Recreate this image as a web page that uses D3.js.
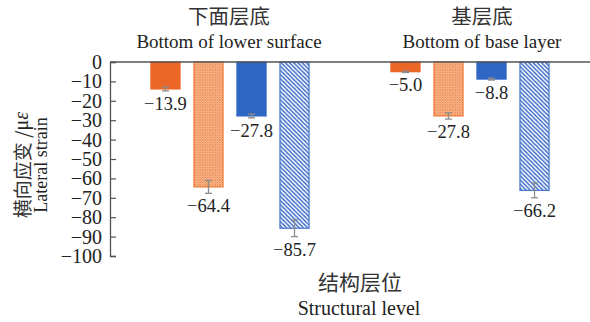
<!DOCTYPE html>
<html>
<head>
<meta charset="utf-8">
<script src="https://cdn.jsdelivr.net/npm/d3@7"></script>
<style>
  html, body { margin: 0; padding: 0; background: #fff; }
  svg { display: block; }
  .serif { font-family: "Liberation Serif", "DejaVu Serif", serif; fill: #222; }
  .cjk { font-family: "Noto Sans CJK SC", sans-serif; fill: #333; }
</style>
</head>
<body>
<svg id="chart" width="590" height="322"></svg>
<script>
// Structural levels (groups) with their bilingual headings
const categories = ["下面层底", "基层底"];
const categoriesEn = ["Bottom of lower surface", "Bottom of base layer"];

// Four loading cases per level
const seriesKeys = ["caseA", "caseB", "caseC", "caseD"];

// Lateral strain (με) per level, one array per level in series order
const valuesLowerSurface = [-13.9, -64.4, -27.8, -85.7];
const valuesBaseLayer = [-5.0, -27.8, -8.8, -66.2];

// Error bar half-widths (με)
const errorsLowerSurface = [1.0, 3.3, 1.0, 4.3];
const errorsBaseLayer = [0.4, 1.6, 0.5, 3.8];

// Y axis ticks
const yTicks = [0, -10, -20, -30, -40, -50, -60, -70, -80, -90, -100];

const values = [valuesLowerSurface, valuesBaseLayer];
const errors = [errorsLowerSurface, errorsBaseLayer];

const SERIF = '"Liberation Serif", "DejaVu Serif", serif';
const svg = d3.select("#chart");
const W = 590;
const plotLeft = 110, plotTop = 62, plotBottom = 256;

const x0 = d3.scaleBand().domain(categories).range([plotLeft, W]);
const x1 = d3.scaleBand().domain(seriesKeys).range([0, x0.bandwidth()])
  .paddingInner(0.3).paddingOuter(0.94);
const y = d3.scaleLinear().domain([-100, 0]).range([plotBottom, plotTop]);

// Fill styles
const defs = svg.append("defs");
const orangePat = defs.append("pattern")
  .attr("id", "orangeHatch").attr("patternUnits", "userSpaceOnUse")
  .attr("width", 2.5).attr("height", 2.5);
orangePat.append("rect").attr("width", 2.5).attr("height", 2.5).attr("fill", "#f8c6a6");
orangePat.append("path").attr("d", "M0,0L2.5,2.5M2.5,0L0,2.5")
  .attr("stroke", "#f0884c").attr("stroke-width", 0.8);

const bluePat = defs.append("pattern")
  .attr("id", "blueHatch").attr("patternUnits", "userSpaceOnUse")
  .attr("width", 4.2).attr("height", 4.2);
bluePat.append("rect").attr("width", 4.2).attr("height", 4.2).attr("fill", "#ffffff");
bluePat.append("path").attr("d", "M-1,-1L5.2,5.2M-1,3.2L1,5.2M3.2,-1L5.2,1")
  .attr("stroke", "#3a69c8").attr("stroke-width", 1.4);

const styles = {
  caseA: { fill: "#ec6627", stroke: "#ec6627" },
  caseB: { fill: "url(#orangeHatch)", stroke: "#ef7a3a" },
  caseC: { fill: "#2f66c3", stroke: "#2f66c3" },
  caseD: { fill: "url(#blueHatch)", stroke: "#4a76cc" }
};

const rows = [];
categories.forEach((c, gi) => {
  seriesKeys.forEach((k, si) => {
    rows.push({ cat: c, key: k, v: values[gi][si], e: errors[gi][si] });
  });
});

// Bars
const g = svg.append("g");
g.selectAll("rect.bar").data(rows).join("rect")
  .attr("class", "bar")
  .attr("x", d => x0(d.cat) + x1(d.key) + 0.5)
  .attr("y", y(0))
  .attr("width", x1.bandwidth() - 1)
  .attr("height", d => y(d.v) - y(0))
  .attr("fill", d => styles[d.key].fill)
  .attr("stroke", d => styles[d.key].stroke)
  .attr("stroke-width", 1.2);

// Error bars
const eb = g.selectAll("g.err").data(rows).join("g").attr("class", "err")
  .attr("stroke", "#8c8c8c").attr("stroke-width", 1.3);
const cx = d => x0(d.cat) + x1(d.key) + x1.bandwidth() / 2;
eb.append("line")
  .attr("x1", cx).attr("x2", cx)
  .attr("y1", d => y(d.v + d.e)).attr("y2", d => y(d.v - d.e));
eb.append("line")
  .attr("x1", d => cx(d) - 3.5).attr("x2", d => cx(d) + 3.5)
  .attr("y1", d => y(d.v + d.e)).attr("y2", d => y(d.v + d.e));
eb.append("line")
  .attr("x1", d => cx(d) - 3.5).attr("x2", d => cx(d) + 3.5)
  .attr("y1", d => y(d.v - d.e)).attr("y2", d => y(d.v - d.e));

// Value labels under each bar
const fmt = d3.format(".1f");
g.selectAll("text.val").data(rows).join("text")
  .attr("class", "val")
  .attr("font-family", SERIF)
  .attr("fill", "#222")
  .attr("x", cx)
  .attr("y", d => y(d.v - d.e) + 19)
  .attr("text-anchor", "middle")
  .attr("font-size", 18.5)
  .text(d => fmt(d.v));

// Top frame line at zero
svg.append("line")
  .attr("x1", plotLeft).attr("x2", W)
  .attr("y1", y(0)).attr("y2", y(0))
  .attr("stroke", "#555").attr("stroke-width", 1.3);

// Y axis with inward ticks
const yAxis = svg.append("g")
  .attr("transform", `translate(${plotLeft},0)`)
  .call(d3.axisLeft(y).tickValues(yTicks).tickSizeInner(-6).tickSizeOuter(-6)
    .tickPadding(8).tickFormat(d3.format("d")));
yAxis.attr("font-family", SERIF).attr("font-size", 20);
yAxis.select(".domain").attr("stroke", "#555").attr("stroke-width", 1.3);
yAxis.selectAll(".tick line").attr("stroke", "#555").attr("stroke-width", 1.2);
yAxis.selectAll(".tick text").attr("fill", "#222");

// Group headings
const titleX = [229, 482];
categories.forEach((c, i) => {
  svg.append("text").attr("class", "cjk")
    .attr("x", titleX[i]).attr("y", 24)
    .attr("text-anchor", "middle").attr("font-size", 20.5)
    .text(c);
  svg.append("text").attr("class", "serif")
    .attr("x", titleX[i]).attr("y", 48)
    .attr("text-anchor", "middle").attr("font-size", 19)
    .text(categoriesEn[i]);
});

// Y axis title
const yt = svg.append("text").attr("class", "cjk")
  .attr("transform", "translate(21,165) rotate(-90)")
  .attr("text-anchor", "middle").attr("dominant-baseline", "central")
  .attr("font-size", 19);
yt.append("tspan").text("横向应变 /");
yt.append("tspan").attr("class", "serif").attr("font-size", 20).text("μ");
yt.append("tspan").attr("class", "serif").attr("font-size", 20)
  .attr("font-style", "italic").text("ε");
svg.append("text").attr("class", "serif")
  .attr("transform", "translate(41,165) rotate(-90)")
  .attr("text-anchor", "middle").attr("dominant-baseline", "central")
  .attr("font-size", 18)
  .text("Lateral strain");

// X axis title
svg.append("text").attr("class", "cjk")
  .attr("x", 360).attr("y", 290)
  .attr("text-anchor", "middle").attr("font-size", 21)
  .text("结构层位");
svg.append("text").attr("class", "serif")
  .attr("x", 359).attr("y", 315)
  .attr("text-anchor", "middle").attr("font-size", 20)
  .text("Structural level");
</script>
</body>
</html>
